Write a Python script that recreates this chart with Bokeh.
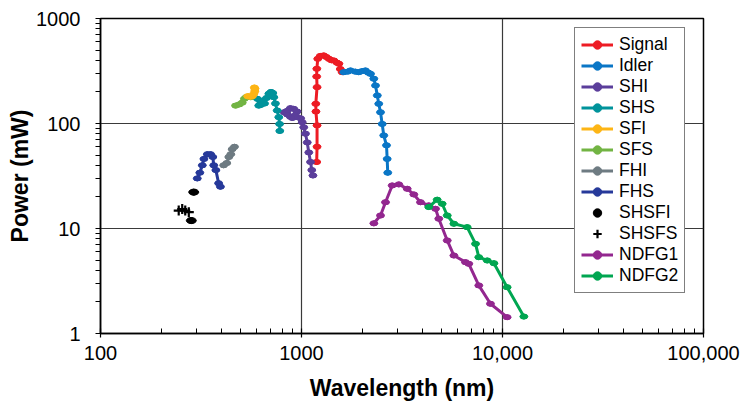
from bokeh.plotting import figure
from bokeh.models import FixedTicker, Legend, LegendItem, Range1d
from bokeh.embed import file_html
from bokeh.resources import INLINE

# ---- data ----
signal_x = [1190, 1195, 1195, 1180, 1178, 1195, 1190, 1192, 1205, 1240, 1290, 1330, 1370, 1410, 1450, 1500, 1535, 1560, 1594]
signal_y = [43, 60, 96, 130, 154, 222, 280, 332, 413, 440, 445, 430, 413, 400, 398, 380, 371, 330, 308]

idler_x = [1623, 1700, 1753, 1850, 1928, 2000, 2080, 2150, 2204, 2290, 2335, 2383, 2423, 2472, 2520, 2566, 2648, 2668, 2686]
idler_y = [308, 312, 320, 312, 308, 315, 320, 305, 297, 267, 230, 185, 154, 128, 99, 77, 62, 46, 34]

shi_x = [820, 850, 880, 915, 950, 930, 880, 850, 900, 950, 990, 1008, 1026, 1047, 1068, 1087, 1109, 1125, 1140]
shi_y = [128, 132, 140, 138, 130, 120, 116, 122, 113, 115, 112, 103, 92, 80, 66, 53, 43, 36, 32]

shs_x = [603, 613, 625, 638, 655, 670, 688, 705, 720, 728, 742, 757, 771, 778, 780]
shs_y = [172, 148, 150, 165, 155, 175, 192, 200, 195, 178, 155, 133, 115, 99, 85]

sfi_x = [540, 555, 570, 580, 586, 587, 583]
sfi_y = [182, 180, 182, 192, 203, 215, 220]

sfs_x = [470, 490, 507, 520, 530, 545, 560]
sfs_y = [148, 152, 158, 172, 178, 180, 178]

fhi_x = [410, 425, 435, 445, 452, 464]
fhi_y = [40, 42, 48, 51, 57, 60]

fhs_x = [303, 312, 321, 327, 340, 353, 362, 366, 375, 387, 395]
fhs_y = [30, 34, 40, 46, 51, 51, 48, 40, 36, 27, 25]

shsfi_x = [291, 283]
shsfi_y = [22.2, 11.9]

shsfs_x = [245, 255, 264, 275]
shsfs_y = [14.8, 15.3, 14.8, 14.3]

ndfg1_x = [2291, 2472, 2618, 2826, 3049, 3356, 3621, 3909, 4297, 4643, 4820, 5310, 5730, 6546, 6797, 7622, 8712, 10543]
ndfg1_y = [11.2, 13.3, 17.8, 25.7, 26.3, 23.9, 21.1, 17.8, 16.6, 15.4, 12.4, 7.69, 5.53, 4.78, 4.61, 2.87, 1.92, 1.43]

ndfg2_x = [4297, 4732, 5010, 5310, 5730, 6671, 7343, 7622, 8396, 9064, 10543, 12770]
ndfg2_y = [16.0, 18.8, 17.2, 13.3, 11.1, 10.3, 7.14, 5.33, 4.96, 4.67, 2.76, 1.45]

x_ticks = [100, 1000, 10000, 100000]
x_tick_labels = ["100", "1000", "10,000", "100,000"]
y_ticks = [1, 10, 100, 1000]
y_tick_labels = ["1", "10", "100", "1000"]

FONT = "Liberation Sans"

p = figure(width=740, height=404, x_axis_type="log", y_axis_type="log",
           x_range=Range1d(100, 100000), y_range=Range1d(1, 1000),
           output_backend="svg", toolbar_location=None,
           min_border_left=100, min_border_top=18, min_border_right=37, min_border_bottom=71)

p.outline_line_color = "black"
p.outline_line_width = 1.5
p.background_fill_color = "white"

minor_x = [m * d for d in [100, 1000, 10000] for m in range(2, 10)]
minor_y = [m * d for d in [1, 10, 100] for m in range(2, 10)]
p.xaxis.ticker = FixedTicker(ticks=x_ticks, minor_ticks=minor_x)
p.yaxis.ticker = FixedTicker(ticks=y_ticks, minor_ticks=minor_y)
p.xaxis.major_label_overrides = {t: l for t, l in zip(x_ticks, x_tick_labels)}
p.yaxis.major_label_overrides = {t: l for t, l in zip(y_ticks, y_tick_labels)}

for ax in (p.xaxis[0], p.yaxis[0]):
    ax.axis_line_color = "black"
    ax.axis_line_width = 1.5
    ax.major_tick_line_color = "black"
    ax.minor_tick_line_color = "black"
    ax.major_tick_line_width = 1.2
    ax.minor_tick_line_width = 1
    ax.major_label_text_font = FONT
    ax.major_label_text_font_size = "20px"
    ax.major_label_text_color = "black"
    ax.axis_label_text_font = FONT
    ax.axis_label_text_font_size = "23px"
    ax.axis_label_text_font_style = "bold"
    ax.axis_label_text_color = "black"

p.xaxis.axis_label = "Wavelength (nm)"
p.yaxis.axis_label = "Power (mW)"
p.xaxis.major_tick_in = 5
p.xaxis.major_tick_out = 4
p.xaxis.minor_tick_in = 5
p.xaxis.minor_tick_out = 0
p.yaxis.major_tick_in = 0
p.yaxis.major_tick_out = 5
p.yaxis.minor_tick_in = 0
p.yaxis.minor_tick_out = 5
p.xaxis.major_label_standoff = 8
p.yaxis.major_label_standoff = 15
p.xaxis.axis_label_standoff = 12
p.yaxis.axis_label_standoff = 0

p.xgrid.ticker = FixedTicker(ticks=x_ticks)
p.ygrid.ticker = FixedTicker(ticks=y_ticks)
p.xgrid.grid_line_color = "#3a3a3a"
p.ygrid.grid_line_color = "#3a3a3a"
p.xgrid.grid_line_width = 1.2
p.ygrid.grid_line_width = 1.2

def add_series(name, xs, ys, c):
    lr = p.line(xs, ys, line_color=c, line_width=3)
    p.ellipse(x=xs, y=ys, width=8, height=5, width_units="screen", height_units="screen",
              fill_color=c, line_color=c)
    cr = p.scatter(xs, ys, marker="circle", size=5, fill_color=c, line_color=c)
    return LegendItem(label=name, renderers=[lr, cr])

it = {}
it["Signal"] = add_series("Signal", signal_x, signal_y, "#ED1C24")
it["Idler"] = add_series("Idler", idler_x, idler_y, "#0A76C6")
it["SHI"] = add_series("SHI", shi_x, shi_y, "#5B3E9B")
it["SHS"] = add_series("SHS", shs_x, shs_y, "#00939B")
it["SFS"] = add_series("SFS", sfs_x, sfs_y, "#72B443")
it["SFI"] = add_series("SFI", sfi_x, sfi_y, "#FDB515")
it["FHI"] = add_series("FHI", fhi_x, fhi_y, "#6E7B82")
it["FHS"] = add_series("FHS", fhs_x, fhs_y, "#26399A")

p.ellipse(x=shsfi_x, y=shsfi_y, width=10, height=6, width_units="screen", height_units="screen",
          fill_color="black", line_color="black")
sc = p.scatter(shsfi_x, shsfi_y, marker="circle", size=6, fill_color="black", line_color="black")
it["SHSFI"] = LegendItem(label="SHSFI", renderers=[sc])

pc = p.scatter(shsfs_x, shsfs_y, marker="cross", size=10, line_color="black", line_width=2.2)
it["SHSFS"] = LegendItem(label="SHSFS", renderers=[pc])

it["NDFG1"] = add_series("NDFG1", ndfg1_x, ndfg1_y, "#93278F")
it["NDFG2"] = add_series("NDFG2", ndfg2_x, ndfg2_y, "#00A651")

order = ["Signal", "Idler", "SHI", "SHS", "SFI", "SFS", "FHI", "FHS", "SHSFI", "SHSFS", "NDFG1", "NDFG2"]
legend = Legend(items=[it[k] for k in order], location=(474, 40))
legend.label_text_font = FONT
legend.label_text_font_size = "17.5px"
legend.label_text_color = "black"
legend.glyph_width = 32
legend.glyph_height = 21
legend.label_height = 21
legend.label_standoff = 6
legend.spacing = 0
legend.padding = 6
legend.margin = 0
legend.border_line_color = "black"
legend.border_line_width = 1.5
legend.background_fill_color = "white"
legend.background_fill_alpha = 1
p.add_layout(legend)

open("out.html", "w").write(file_html(p, INLINE))
